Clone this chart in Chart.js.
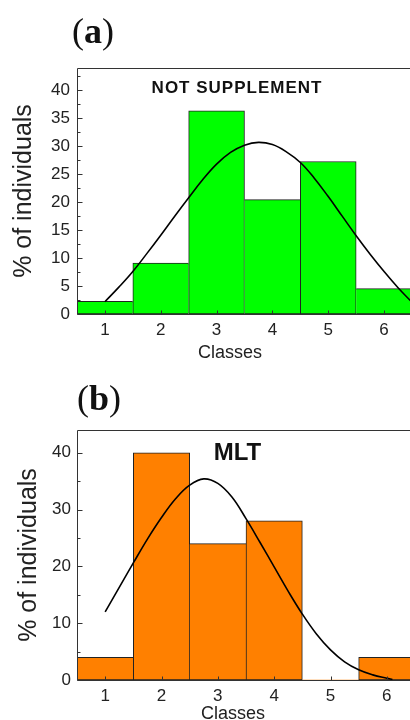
<!DOCTYPE html>
<html><head><meta charset="utf-8">
<script src="https://cdn.jsdelivr.net/npm/chart.js@4.4.1/dist/chart.umd.min.js"></script>
<style>
html,body{margin:0;padding:0;background:#fff;overflow:hidden;width:410px;height:720px;}
.wrap{position:absolute;left:0;width:420px;height:360px;}
canvas{display:block;}
</style></head><body>
<div class="wrap" style="top:0"><canvas id="ca" width="420" height="360"></canvas></div>
<div class="wrap" style="top:360px"><canvas id="cb" width="420" height="360"></canvas></div>
<script>
// ---- data ----
const classes = [1, 2, 3, 4, 5, 6];
const notSupplement = [2.27, 9.09, 36.36, 20.45, 27.27, 4.55];
const mlt = [4, 40, 24, 28, 0, 4];
const fitXA = [1, 1.25, 1.5, 1.75, 2, 2.25, 2.5, 2.75, 3, 3.25, 3.5, 3.75, 4, 4.25, 4.5, 4.75, 5, 5.25, 5.5, 5.75, 6, 6.25, 6.5];
const fitYA = [2.2, 4.8, 7.6, 10.8, 14.1, 17.5, 20.8, 24.0, 26.8, 28.9, 30.2, 30.7, 30.3, 29.0, 27.1, 24.3, 21.0, 17.5, 14.0, 10.7, 7.6, 4.7, 2.1];
const fitXB = [1, 1.25, 1.5, 1.75, 2, 2.25, 2.5, 2.75, 3, 3.25, 3.5, 3.75, 4, 4.25, 4.5, 4.75, 5, 5.25, 5.5, 5.75, 6, 6.1];
const fitYB = [12.0, 16.3, 20.6, 24.8, 28.6, 31.9, 34.3, 35.4, 34.6, 32.2, 28.4, 24.2, 19.9, 15.6, 11.6, 8.1, 5.3, 3.2, 1.8, 0.9, 0.3, 0.1];
const xTickLabels = [1, 2, 3, 4, 5, 6];
const yTicksA = [0, 5, 10, 15, 20, 25, 30, 35, 40];
const yTicksB = [0, 10, 20, 30, 40];

const decor = {
  id: 'decor',
  afterDatasetsDraw(chart, args, o) {
    const {ctx, chartArea: a, scales: {x, y}} = chart;
    ctx.save();
    ctx.strokeStyle = '#333';
    ctx.lineWidth = 1;
    const L = Math.round(a.left) + 0.5, T = Math.round(a.top) + 0.5;
    const R = Math.round(a.right) + 0.5, B = Math.round(a.bottom) + 0.5;
    ctx.beginPath();
    ctx.moveTo(L, B); ctx.lineTo(L, T); ctx.lineTo(R, T); ctx.lineTo(R, B); ctx.closePath();
    ctx.stroke();
    ctx.beginPath();
    const yt = o.yTicks, step = yt[1] - yt[0];
    yt.forEach(v => { const p = Math.round(y.getPixelForValue(v)) + 0.5; ctx.moveTo(L, p); ctx.lineTo(L + 5, p); });
    for (let v = yt[0] + step / 2; v < y.max; v += step) { const p = Math.round(y.getPixelForValue(v)) + 0.5; ctx.moveTo(L, p); ctx.lineTo(L + 3, p); }
    xTickLabels.forEach(v => { const p = Math.round(x.getPixelForValue(v)) + 0.5; ctx.moveTo(p, B); ctx.lineTo(p, B - 4); });
    ctx.stroke();
    // panel letter
    ctx.fillStyle = '#111';
    ctx.textBaseline = 'alphabetic';
    ctx.textAlign = 'left';
    let px = o.letterX;
    ctx.font = '36px "Liberation Serif"';
    ctx.fillText('(', px, o.letterY); px += ctx.measureText('(').width;
    ctx.font = 'bold 36px "Liberation Serif"';
    ctx.fillText(o.letter, px, o.letterY); px += ctx.measureText(o.letter).width;
    ctx.font = '36px "Liberation Serif"';
    ctx.fillText(')', px, o.letterY);
    // inner label
    ctx.font = o.innerFont;
    ctx.textAlign = 'center';
    ctx.letterSpacing = o.innerSpacing;
    ctx.fillText(o.inner, o.innerX, o.innerY);
    ctx.letterSpacing = '0px';
    // x title
    ctx.font = '18px "Liberation Sans"';
    ctx.fillStyle = '#222';
    ctx.fillText('Classes', o.xTitleX, o.xTitleY);
    ctx.restore();
  }
};

function bw(c) {
  const d = c.dataset.data, i = c.dataIndex, v = d[i].y;
  const prev = i > 0 ? d[i - 1].y : -1;
  const next = i < d.length - 1 ? d[i + 1].y : -1;
  return {top: 1, bottom: 1, left: prev <= v ? 1 : 0, right: next < v ? 1 : 0};
}

function makeChart(id, vals, color, fx, fy, yTicks, cfg) {
  return new Chart(document.getElementById(id), {
    data: {
      datasets: [
        {
          type: 'line',
          data: fx.map((v, i) => ({x: v, y: fy[i]})),
          borderColor: '#000', borderWidth: 1.6, pointRadius: 0,
          tension: 0.4, fill: false, order: 0
        },
        {
          type: 'bar',
          data: classes.map((c, i) => ({x: c, y: vals[i]})),
          backgroundColor: color, borderColor: '#222', borderWidth: bw,
          borderSkipped: false, barPercentage: 1, categoryPercentage: 1, order: 1
        }
      ]
    },
    options: {
      responsive: false, animation: false,
      layout: {padding: {left: 0, top: cfg.top, right: cfg.right, bottom: 0}},
      plugins: {legend: {display: false}, tooltip: {enabled: false}, decor: cfg.decor},
      scales: {
        x: {
          type: 'linear', min: 0.5, max: 6.5, offset: false,
          grid: {display: false, drawTicks: false}, border: {display: false},
          afterBuildTicks: s => { s.ticks = xTickLabels.map(v => ({value: v})); },
          afterFit: s => { s.height = cfg.xh; },
          ticks: {font: {family: 'Liberation Sans', size: 17}, color: '#222', padding: cfg.xpad, maxRotation: 0}
        },
        y: {
          min: 0, max: 44,
          grid: {display: false, drawTicks: false}, border: {display: false},
          afterBuildTicks: s => { s.ticks = yTicks.map(v => ({value: v})); },
          afterFit: s => { s.width = 77; },
          ticks: {font: {family: 'Liberation Sans', size: 17}, color: '#222', padding: cfg.ypad},
          title: {display: true, text: '% of individuals', font: {family: 'Liberation Sans', size: 25}, color: '#222', padding: {top: cfg.ytp, bottom: 0}}
        }
      }
    },
    plugins: [decor]
  });
}

makeChart('ca', notSupplement, '#00ff00', fitXA, fitYA, yTicksA, {
  top: 68, right: 8, xh: 46, xpad: 6, ypad: 7, ytp: 9.5,
  decor: {yTicks: yTicksA, letter: 'a', letterX: 72, letterY: 43, inner: 'NOT SUPPLEMENT', innerFont: 'bold 17px "Liberation Sans"', innerSpacing: '1px', innerX: 237, innerY: 93, xTitleX: 230, xTitleY: 358}
});
makeChart('cb', mlt, '#ff8000', fitXB, fitYB, yTicksB, {
  top: 70, right: 5, xh: 40, xpad: 6, ypad: 6, ytp: 14,
  decor: {yTicks: yTicksB, letter: 'b', letterX: 77, letterY: 50, inner: 'MLT', innerFont: 'bold 24px "Liberation Sans"', innerSpacing: '0px', innerX: 237.5, innerY: 100, xTitleX: 233, xTitleY: 359}
});
</script>
</body></html>
